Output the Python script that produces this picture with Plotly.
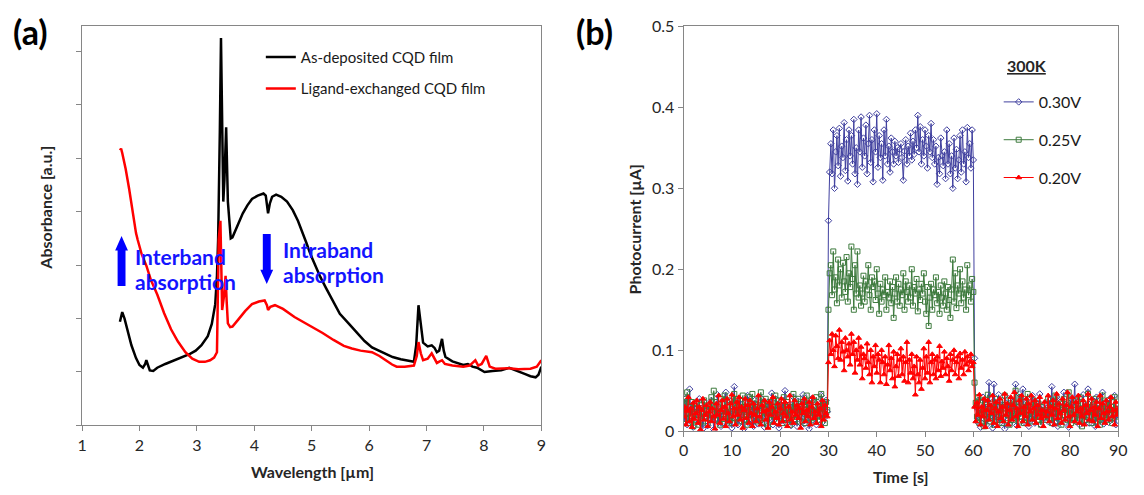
import numpy as np
import plotly.graph_objects as go

W, H = 1144, 495

# ---------------- Panel (a) data ----------------
wl_black = [1.66,1.70,1.74,1.78,1.86,1.94,2.00,2.06,2.10,2.12,2.15,2.18,2.24,2.31,2.45,2.61,2.75,2.88,2.98,3.08,
            3.19,3.26,3.32,3.35,3.37,3.38,3.40,3.42,3.44,3.46,3.48,3.51,3.54,3.57,3.59,3.62,3.66,3.72,3.80,3.88,
            3.96,4.06,4.16,4.20,4.22,4.24,4.27,4.31,4.38,4.47,4.57,4.67,4.76,4.84,4.91,4.98,5.06,5.15,5.25,5.37,
            5.49,5.65,5.80,5.92,6.05,6.20,6.41,6.55,6.72,6.78,6.82,6.86,6.90,6.94,7.02,7.09,7.14,7.18,7.22,7.27,
            7.30,7.33,7.45,7.64,7.72,7.80,7.88,8.01,8.15,8.30,8.44,8.60,8.72,8.81,8.90,8.95,9.00]
ab_black = [1.94,2.12,2.00,1.85,1.50,1.26,1.13,1.08,1.15,1.22,1.10,1.03,1.02,1.08,1.15,1.22,1.28,1.34,1.40,1.50,
            1.67,1.90,2.27,2.80,3.47,4.55,5.50,7.25,5.60,4.19,4.60,5.58,4.19,3.70,3.50,3.52,3.62,3.77,3.97,4.12,
            4.24,4.30,4.34,4.30,4.10,3.97,4.15,4.28,4.32,4.28,4.19,4.03,3.83,3.62,3.41,3.20,2.99,2.78,2.57,2.32,
            2.09,1.90,1.73,1.58,1.46,1.38,1.28,1.24,1.20,1.19,1.50,2.25,1.90,1.55,1.48,1.50,1.45,1.37,1.40,1.62,
            1.40,1.28,1.20,1.13,1.15,1.10,1.08,1.00,1.02,1.03,1.08,1.02,0.96,0.92,0.90,0.95,1.10]

wl_red = [1.66,1.68,1.70,1.76,1.82,1.88,1.94,1.97,2.04,2.12,2.20,2.31,2.43,2.55,2.67,2.80,2.92,3.04,3.14,3.23,
          3.30,3.35,3.37,3.38,3.41,3.44,3.47,3.50,3.52,3.54,3.58,3.62,3.72,3.84,3.96,4.08,4.18,4.22,4.24,4.28,
          4.36,4.50,4.70,4.95,5.19,5.38,5.56,5.70,5.85,6.05,6.18,6.29,6.40,6.48,6.62,6.78,6.83,6.86,6.90,6.94,
          7.02,7.09,7.14,7.18,7.23,7.27,7.32,7.45,7.64,7.75,7.85,7.90,7.96,8.04,8.10,8.20,8.44,8.60,8.81,8.92,9.00]
ab_red = [5.15,5.18,5.10,4.80,4.43,4.00,3.60,3.47,3.20,2.99,2.72,2.45,2.10,1.80,1.57,1.37,1.25,1.19,1.19,1.22,
          1.27,1.37,2.50,3.47,3.83,2.16,2.40,2.80,2.30,1.91,1.84,1.85,1.98,2.14,2.27,2.32,2.34,2.25,2.16,2.22,
          2.25,2.18,2.03,1.88,1.73,1.60,1.49,1.44,1.40,1.37,1.30,1.22,1.14,1.10,1.10,1.12,1.30,1.56,1.35,1.22,
          1.25,1.35,1.25,1.17,1.20,1.22,1.15,1.12,1.10,1.12,1.22,1.12,1.15,1.30,1.10,1.06,1.07,1.05,1.06,1.10,1.22]

xticks_a = [1, 2, 3, 4, 5, 6, 7, 8, 9]
yticks_a = [0, 1, 2, 3, 4, 5, 6, 7]

# ---------------- Panel (b) data: photocurrent in nA, sampled every 0.25 s ----------------
pc_030_nA = [
    35,12,41,8,22,52,19,27,5,33, 15,29,22,40,10,28,3,36,18,25, 7,31,14,38,21,2,29,16,45,11,
    24,6,34,19,27,48,9,22,13,37, 4,26,55,17,30,8,23,39,12,28, 3,35,20,44,10,26,15,32,6,38,
    18,30,9,25,41,14,33,5,27,19, 36,11,24,47,8,30,16,39,21,4, 28,13,35,22,50,10,26,18,33,7,
    29,42,15,24,6,37,20,31,12,45, 9,27,18,34,3,25,40,14,30,22, 8,36,19,27,44,11,32,17,38,24,
    260,320,355,318,372,300,345,365,328,374, 315,352,338,381,322,360,309,372,340,365,
    330,385,318,350,305,372,345,388,326,362, 340,378,318,355,390,332,360,308,372,345,
    392,326,365,338,355,310,372,340,385,330, 352,320,362,345,330,358,340,350,332,348,
    355,338,310,346,360,330,352,340,368,335, 358,342,372,350,390,345,376,330,360,340,
    372,352,325,365,345,380,338,360,330,352, 305,338,318,362,340,328,345,312,372,330,
    355,318,340,300,362,325,348,312,335,365, 320,372,330,345,308,375,338,355,325,372,
    335,
    90,30,12,38,20,5,27,42,15,33, 8,24,60,18,35,4,58,22,12,30, 45,10,26,38,16,3,32,20,40,9,
    28,14,36,22,58,7,30,46,18,25, 52,12,34,20,40,6,28,15,44,22, 10,36,18,30,46,8,26,16,34,22,
    28,12,38,20,55,9,31,17,42,6, 25,36,14,29,48,11,33,21,5,27, 40,16,30,58,12,24,37,8,28,19,
    45,13,32,22,52,10,26,38,15,30, 6,42,20,28,14,36,48,9,25,18, 33,11,40,23,30,16,44,8,27,20]
pc_025_nA = [
    22,40,15,48,10,30,18,36,6,28, 14,34,20,8,32,24,12,38,18,26, 10,30,16,42,22,50,14,36,20,28,
    8,40,25,15,44,18,30,12,38,22, 10,34,46,16,26,40,12,30,20,44, 14,36,24,8,42,20,30,46,16,34,
    26,12,38,22,48,10,32,18,40,24, 6,28,36,14,30,20,44,12,26,38, 18,32,10,42,24,16,36,28,8,30,
    20,46,14,34,22,40,12,28,18,36, 26,10,44,20,32,16,38,24,12,30, 42,18,28,14,46,22,34,10,36,26,
    150,195,205,168,222,175,190,158,212,180, 200,165,208,185,172,215,160,195,178,228,
    188,150,205,170,222,165,180,155,170,192, 160,185,175,205,168,150,190,178,185,162,
    200,170,145,182,160,175,168,190,150,172, 165,185,158,178,140,170,190,160,182,155,
    175,168,195,150,185,172,160,180,165,200, 155,178,170,188,148,175,162,182,170,195,
    160,145,178,130,165,182,150,175,168,190, 158,172,145,180,165,155,185,170,150,178,
    162,140,175,212,160,195,152,180,170,200, 158,185,165,175,150,205,168,180,160,188,
    172,
    60,35,18,42,10,28,20,38,6,30, 15,45,22,12,34,26,8,40,18,30, 14,36,22,10,28,44,16,32,20,8,
    38,25,14,34,50,18,30,12,42,22, 28,10,36,20,46,16,30,24,12,38, 20,28,14,34,22,8,30,18,26,14,
    22,40,16,30,10,36,24,44,12,28, 18,34,8,26,40,20,30,14,48,22, 10,32,26,16,38,12,28,42,20,6,
    34,24,14,30,46,18,36,10,26,20, 40,12,32,22,8,28,44,16,34,24, 14,38,20,30,10,26,42,18,28,22]
pc_020_nA = [
    18,30,8,25,42,12,28,5,35,15, 22,38,10,30,2,26,40,14,20,32, 6,24,36,12,28,18,3,34,20,44,
    10,26,38,15,30,6,40,22,12,34, 45,18,28,8,36,20,42,14,30,4, 26,40,16,32,10,38,22,6,34,20,
    12,28,44,18,8,32,24,38,14,26, 4,36,20,30,42,10,24,16,34,8, 28,40,12,22,36,18,6,30,44,14,
    24,10,38,20,32,16,28,4,34,22, 40,12,26,18,36,8,30,42,16,24, 10,34,20,28,6,38,14,32,22,18,
    85,112,95,120,100,80,118,105,90,125, 88,110,98,75,115,100,92,108,82,120,
    95,110,72,100,88,115,82,104,65,95, 90,78,108,85,70,100,60,92,80,106,
    72,95,88,60,100,85,70,92,58,82, 106,75,90,65,98,55,80,95,68,88,
    102,70,92,62,85,110,60,88,72,95, 65,80,45,92,70,60,88,52,78,102,
    65,92,72,110,60,85,95,70,88,65, 92,75,105,68,86,78,98,70,90,80,
    62,95,75,88,100,70,85,92,65,96, 78,88,70,98,82,92,75,86,95,80,
    85,
    30,12,35,20,45,8,30,18,40,5, 26,38,14,32,22,44,10,28,36,6, 24,40,16,30,12,46,20,34,8,26,
    42,14,32,48,18,28,6,38,22,44, 12,30,18,40,8,34,24,44,14,28, 38,10,32,20,42,16,26,6,36,18,
    24,44,12,30,20,38,8,28,46,16, 34,22,10,40,26,14,32,48,18,6, 30,42,20,12,36,24,44,10,28,18,
    38,8,32,22,46,14,26,40,12,30, 20,36,6,28,44,16,34,22,10,38, 24,14,30,42,18,26,8,36,20,28]
time_step = 0.25  # s
xticks_b = [0, 10, 20, 30, 40, 50, 60, 70, 80, 90]
yticks_b = [0, 0.1, 0.2, 0.3, 0.4, 0.5]
ytick_text_b = ["0", "0.1", "0.2", "0.3", "0.4", "0.5"]

FONT = "Lato"
AX = "#868686"
TXT = "#262626"


def px(x):
    return x / W


def py(y):
    return 1 - y / H


fig = go.Figure()

fig.add_trace(go.Scatter(x=wl_black, y=ab_black, mode="lines", name="As-deposited CQD film",
                         line=dict(color="#000000", width=2.5), xaxis="x", yaxis="y",
                         legend="legend", legendgroup="a1"))
fig.add_trace(go.Scatter(x=wl_red, y=ab_red, mode="lines", name="Ligand-exchanged CQD film",
                         line=dict(color="#ff0000", width=2.5), xaxis="x", yaxis="y",
                         legend="legend", legendgroup="a2"))

for vals_nA, name, col, sym, grp in [
    (pc_030_nA, "0.30V", "#40409f", "diamond-open", "b1"),
    (pc_025_nA, "0.25V", "#3d7a3d", "square-open", "b2"),
    (pc_020_nA, "0.20V", "#ff0000", "triangle-up", "b3"),
]:
    t = np.arange(len(vals_nA)) * time_step
    vals_uA = np.array(vals_nA) / 1000.0
    fig.add_trace(go.Scatter(x=t, y=vals_uA, mode="lines+markers", name=name,
                             line=dict(color=col, width=1),
                             marker=dict(symbol=sym, size=5, color=col, line=dict(color=col, width=1)),
                             xaxis="x2", yaxis="y2", legend="legend2", legendgroup=grp))

axis_common = dict(showgrid=False, zeroline=False, showline=True, linecolor=AX, linewidth=1,
                   mirror=True, ticks="outside", ticklen=5, tickcolor=AX, tickwidth=1,
                   tickfont=dict(family=FONT, size=16, color=TXT))

fig.update_layout(
    width=W, height=H, margin=dict(l=0, r=0, t=0, b=0),
    paper_bgcolor="white", plot_bgcolor="white",
    font=dict(family=FONT, color=TXT),
    xaxis=dict(domain=[px(78), px(543)], range=[1, 9], tickvals=xticks_a, anchor="y", **axis_common),
    yaxis=dict(domain=[py(432), py(17)], range=[0, 7.47], tickvals=yticks_a, showticklabels=False,
               anchor="x", **axis_common),
    xaxis2=dict(domain=[px(687), px(1127)], range=[0, 90], tickvals=xticks_b, anchor="y2", **axis_common),
    yaxis2=dict(domain=[py(438), py(17)], range=[0, 0.5], tickvals=yticks_b, ticktext=ytick_text_b,
                anchor="x2", **axis_common),
    legend=dict(x=px(259), y=py(32), xanchor="left", yanchor="top", bgcolor="rgba(0,0,0,0)",
                font=dict(family=FONT, size=15, color="#1a1a1a"), tracegroupgap=9,
                traceorder="grouped"),
    legend2=dict(x=px(1006), y=py(78), xanchor="left", yanchor="top", bgcolor="rgba(0,0,0,0)",
                 font=dict(family=FONT, size=16, color="#1a1a1a"), tracegroupgap=14,
                 traceorder="grouped"),
    showlegend=True,
)

ann = []


def txt(x, y, s, size, color=TXT, bold=True, angle=0, xanchor="center"):
    ann.append(dict(x=px(x), y=py(y), xref="paper", yref="paper", showarrow=False,
                    text=f"<b>{s}</b>" if bold else s, textangle=angle, xanchor=xanchor, yanchor="middle",
                    font=dict(family=FONT, size=size, color=color)))


txt(26, 22, "(a)", 34, color="#000000")
txt(597, 22, "(b)", 34, color="#000000")
txt(311, 480, "Wavelength [µm]", 16)
txt(41, 205, "Absorbance [a.u.]", 16, angle=-90)
txt(907, 485, "Time [s]", 16)
txt(637, 228, "Photocurrent [µA]", 16, angle=-90)
txt(1035, 58, "<u>300K</u>", 16)
BLUE = "#1414ff"
txt(130, 256, "Interband", 21, color=BLUE, xanchor="left")
txt(130, 282, "absorption", 21, color=BLUE, xanchor="left")
txt(279, 249, "Intraband", 21, color=BLUE, xanchor="left")
txt(279, 275, "absorption", 21, color=BLUE, xanchor="left")
fig.update_layout(annotations=ann)


def arrow_path(cx, tip, tail, shaft_w=8, head_w=13, head_len=15):
    d = 1 if tail > tip else -1
    hb = tip + d * head_len
    pts = [(cx, tip), (cx + head_w / 2, hb), (cx + shaft_w / 2, hb), (cx + shaft_w / 2, tail),
           (cx - shaft_w / 2, tail), (cx - shaft_w / 2, hb), (cx - head_w / 2, hb)]
    return "M " + " L ".join(f"{px(a):.5f},{py(b):.5f}" for a, b in pts) + " Z"


shapes = [
    dict(type="path", xref="paper", yref="paper", path=arrow_path(118, 235, 287),
         fillcolor="#0000ff", line=dict(width=0)),
    dict(type="path", xref="paper", yref="paper", path=arrow_path(265, 285, 233),
         fillcolor="#0000ff", line=dict(width=0)),
]
fig.update_layout(shapes=shapes)

fig.write_html("out.html", config={"displayModeBar": False},
               post_script="document.body.style.margin='0';document.documentElement.style.overflow='hidden';")
